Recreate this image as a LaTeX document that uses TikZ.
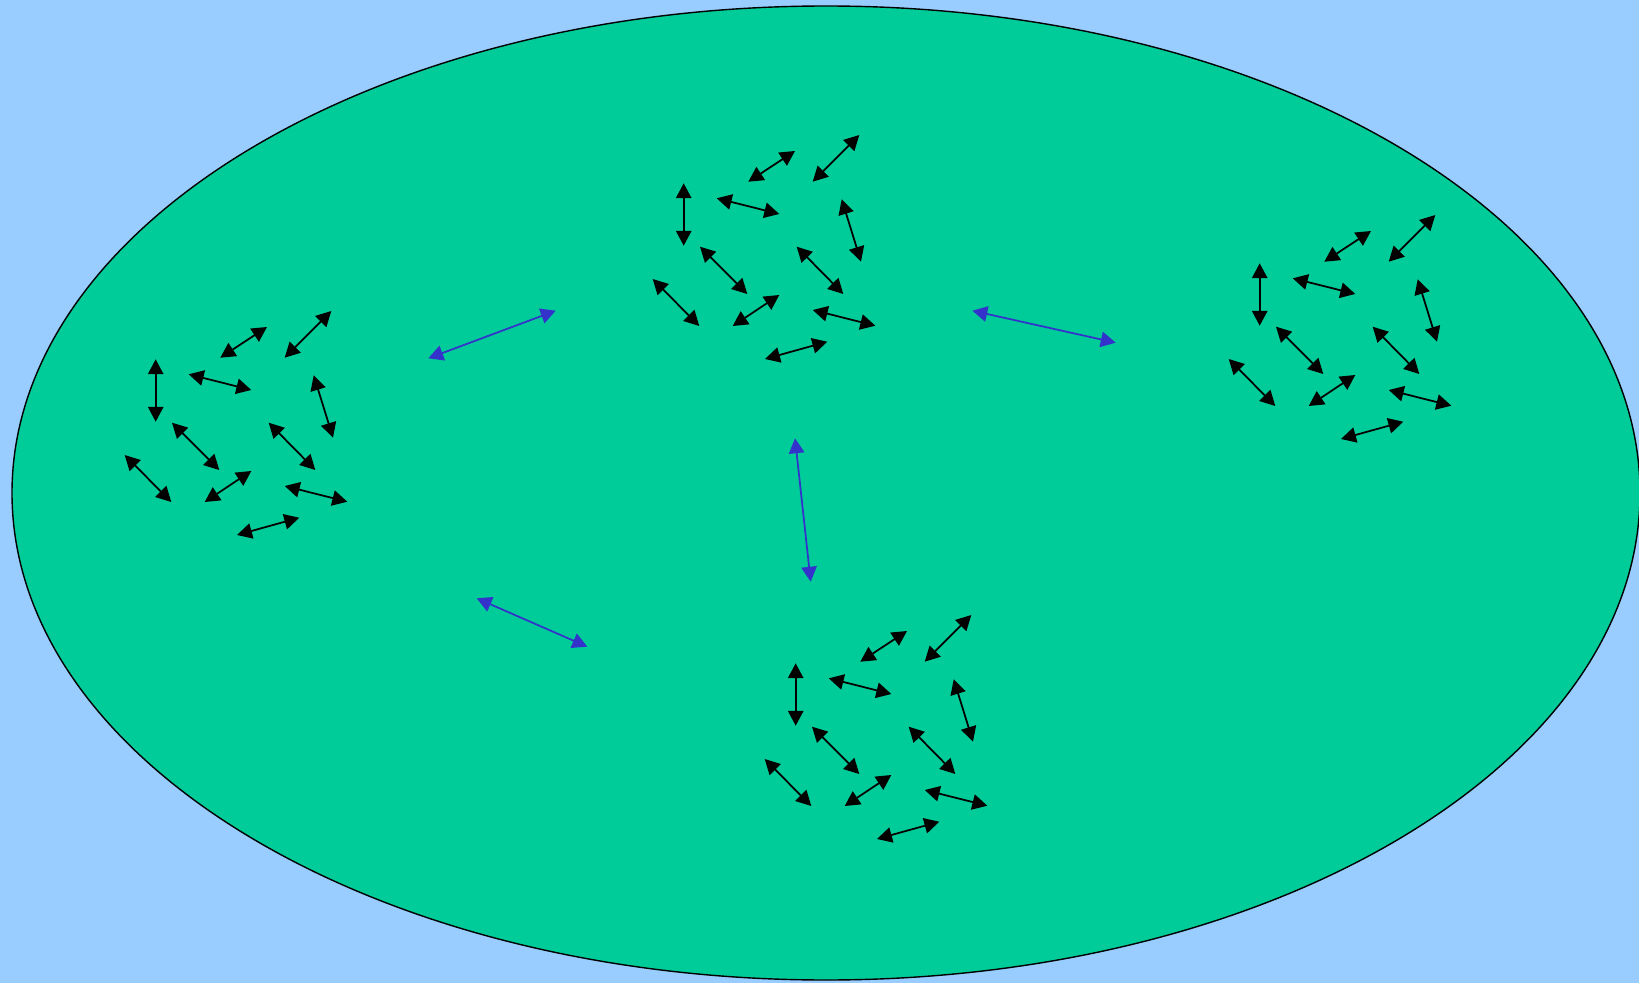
\documentclass[tikz,border=0pt]{standalone}
\usetikzlibrary{arrows.meta}
\definecolor{skyback}{HTML}{99CCFF}
\definecolor{gasgreen}{HTML}{00CC99}
\definecolor{flowblue}{HTML}{3333CC}
\tikzset{
  molecule/.style={{Triangle[length=8.5pt,width=8.8pt]}-{Triangle[length=8.5pt,width=8.8pt]}, line width=1pt},
  exchange/.style={molecule, color=flowblue}
}
\begin{document}
\begin{tikzpicture}[x=0.02cm, y=-0.02cm]
  \fill[skyback] (0,0) rectangle (1639,983);
  \useasboundingbox (0,0) rectangle (1639,983);
  \draw[line width=0.8pt, fill=gasgreen] (826,493) ellipse [x radius=814, y radius=487];
  % four swarms of molecules
  \foreach \dx/\dy in {0/0, -528/176, 576/80, 112/480} {
    \begin{scope}[shift={(\dx,\dy)}]
      \draw[molecule] (748.3,181.7) -- (795,151);
      \draw[molecule] (812.7,181.7) -- (859.3,135);
      \draw[molecule] (683.7,183.3) -- (683.7,245.7);
      \draw[molecule] (716.7,198.3) -- (779.3,214);
      \draw[molecule] (841.7,199.3) -- (861,261.7);
      \draw[molecule] (700,246.7) -- (747.3,294);
      \draw[molecule] (796.7,246.7) -- (843.3,294);
      \draw[molecule] (652.7,279) -- (699.3,326);
      \draw[molecule] (732.7,326) -- (779.3,295);
      \draw[molecule] (812.7,310) -- (875.3,325.7);
      \draw[molecule] (765,359) -- (827.3,341.7);
    \end{scope}
  }
  % exchange between the swarms
  \draw[exchange] (428.3,358.3) -- (555.7,310.7);
  \draw[exchange] (972.3,310.7) -- (1115.7,342.7);
  \draw[exchange] (795,438.3) -- (810.7,581.7);
  \draw[exchange] (476.7,598.3) -- (587.3,646.7);
\end{tikzpicture}
\end{document}
